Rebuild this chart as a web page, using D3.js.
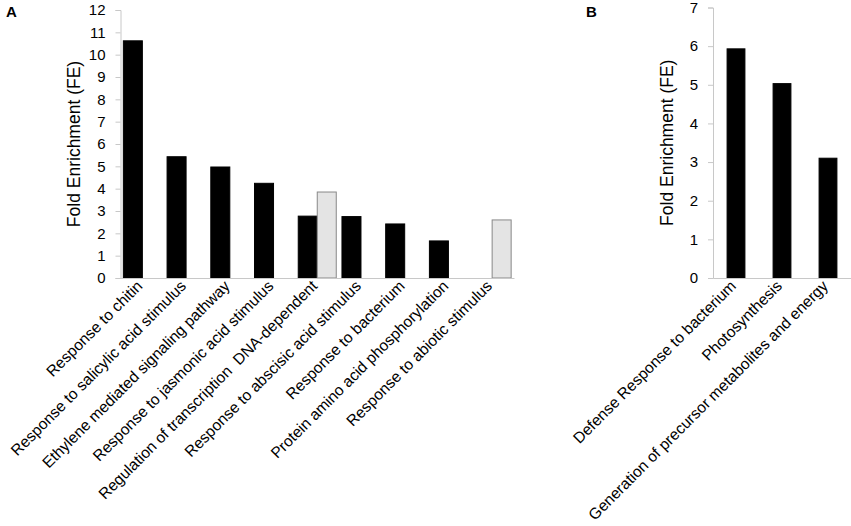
<!DOCTYPE html>
<html><head><meta charset="utf-8">
<script src="https://cdn.jsdelivr.net/npm/d3@7"></script>
<style>
body{margin:0;background:#fff;}
text{font-family:"Liberation Sans",Arial,sans-serif;}
</style></head>
<body><svg id="c" width="851" height="526"></svg>
<script>
const catsA = ["Response to chitin","Response to salicylic acid stimulus","Ethylene mediated signaling pathway","Response to jasmonic acid stimulus","Regulation of transcription  DNA-dependent","Response to abscisic acid stimulus","Response to bacterium","Protein amino acid phosphorylation","Response to abiotic stimulus"];
const blackA = [10.62, 5.43, 4.97, 4.24, 2.77, 2.75, 2.42, 1.66, 0];
const greyA  = [0, 0, 0, 0, 3.85, 0, 0, 0, 2.6];
const ticksA = [0,1,2,3,4,5,6,7,8,9,10,11,12];

const catsB = ["Defense Response to bacterium","Photosynthesis","Generation of precursor metabolites and energy"];
const valuesB = [5.93, 5.03, 3.10];
const ticksB = [0,1,2,3,4,5,6,7];

const svg = d3.select("#c");
const axisCol = "#c8c8c8";

function drawPanel(o){
  const g = svg.append("g");
  const y = d3.scaleLinear().domain([0,o.max]).range([o.y0,o.y1]);
  const x0 = d3.scaleBand().domain(o.cats).range([o.xl,o.xr]).padding(0);
  const ya = g.append("g").attr("transform",`translate(${o.xl},0)`)
    .call(d3.axisLeft(y).tickValues(o.ticks).tickSize(5).tickPadding(10).tickFormat(d3.format("d")));
  ya.select(".domain").attr("stroke",axisCol);
  ya.selectAll(".tick line").attr("stroke",axisCol);
  ya.selectAll(".tick text").attr("font-size",15).attr("fill","#000")
    .style("font-family","'Liberation Sans',Arial,sans-serif");
  o.series.forEach((s,si)=>{
    const x1 = d3.scaleBand().domain(d3.range(o.series.length)).range([0,x0.bandwidth()])
      .paddingInner(0).paddingOuter(o.pad);
    g.append("g").selectAll("rect").data(s.values.map((v,i)=>({v,c:o.cats[i]})).filter(d=>d.v>0))
      .join("rect")
      .attr("x",d=>x0(d.c)+x1(si))
      .attr("width",x1.bandwidth())
      .attr("y",d=>y(d.v)).attr("height",d=>y(0)-y(d.v))
      .attr("fill",s.fill).attr("stroke",s.stroke).attr("stroke-width",1);
  });
  const xa = g.append("g").attr("transform",`translate(0,${o.y0})`)
    .call(d3.axisBottom(x0).tickSize(0).tickFormat(""));
  xa.select(".domain").attr("stroke",axisCol);
  g.append("g").selectAll("text").data(o.cats).join("text")
    .attr("transform",d=>`translate(${x0(d)+x0.bandwidth()/2+1},${o.y0+9}) rotate(-45)`)
    .attr("text-anchor","end").attr("font-size",15.6).attr("fill","#000")
    .style("white-space","pre")
    .text(d=>d);
  g.append("text").attr("transform",`translate(${o.tx},${(o.y0+o.y1)/2}) rotate(-90)`)
    .attr("text-anchor","middle").attr("font-size",17.5).attr("fill","#000")
    .text("Fold Enrichment (FE)");
  g.append("text").attr("x",o.lx).attr("y",17).attr("font-size",15).attr("font-weight","bold").text(o.letter);
}

drawPanel({cats:catsA, max:12, ticks:ticksA, y0:278, y1:10, xl:120.5, xr:514,
  series:[{values:blackA, fill:"#000", stroke:"#000"},{values:greyA, fill:"#e4e4e4", stroke:"#888"}],
  pad:0.15, tx:80, lx:6, letter:"A"});

drawPanel({cats:catsB, max:7, ticks:ticksB, y0:278, y1:7.5, xl:713, xr:851,
  series:[{values:valuesB, fill:"#000", stroke:"#000"}],
  pad:0.79, tx:673, lx:586, letter:"B"});
</script></body></html>
